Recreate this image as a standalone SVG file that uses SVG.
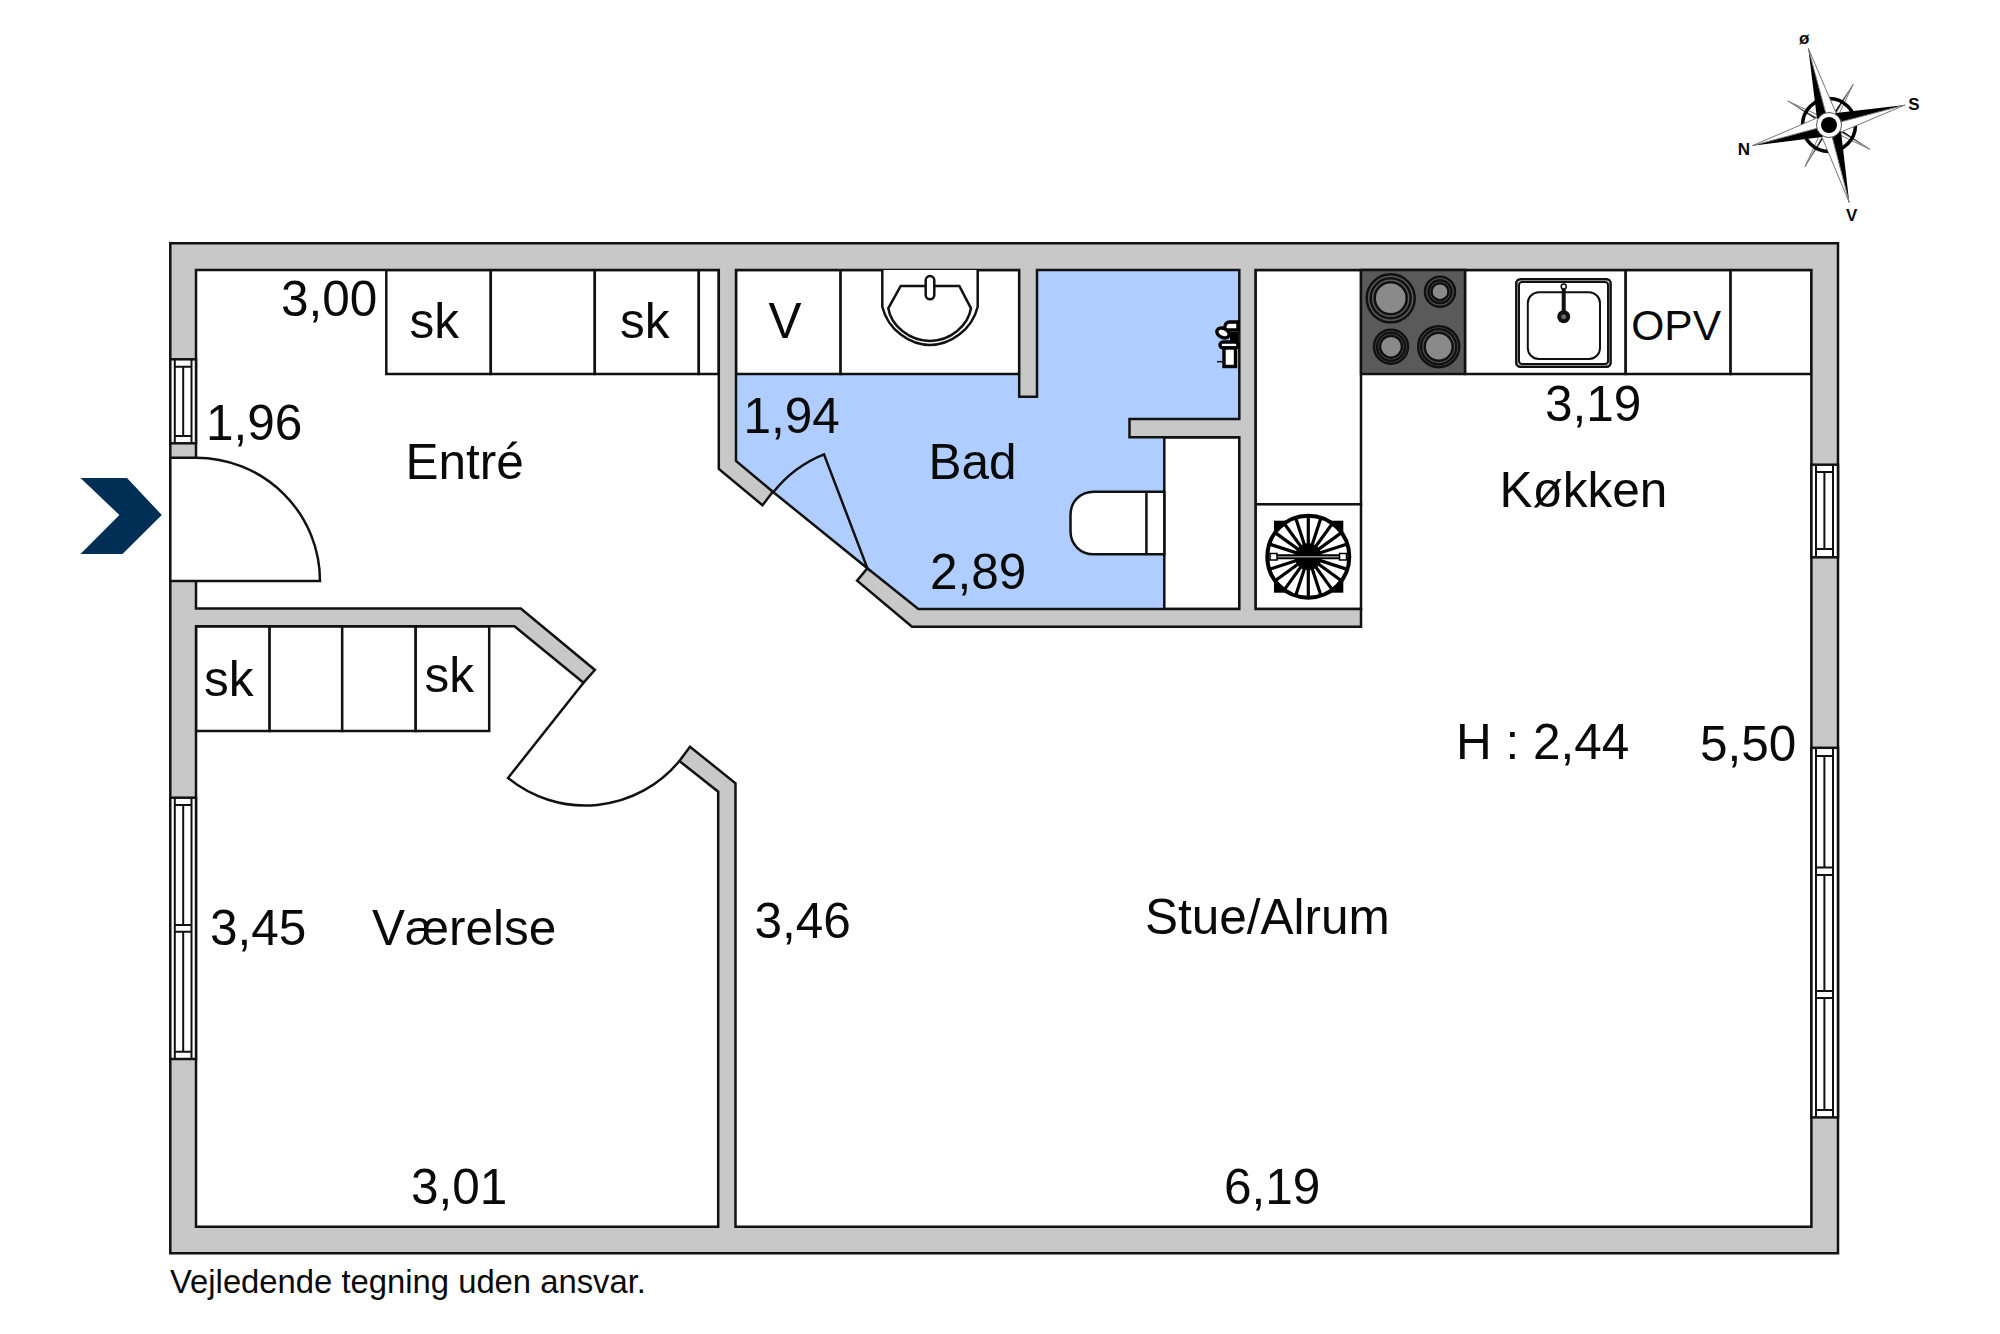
<svg xmlns="http://www.w3.org/2000/svg" width="2000" height="1334" viewBox="0 0 2000 1334">
<style>
text{font-family:"Liberation Sans",Arial,sans-serif;fill:#0a0a0a}
.t{font-size:49.5px}
.o{font-size:42.5px}
.f{font-size:32.8px}
.c{font-size:17px;font-weight:bold}
.l{fill:none;stroke:#111;stroke-width:2.5}
.w{fill:#fff;stroke:#111;stroke-width:2.5}
.th{fill:none;stroke:#111;stroke-width:2}
.b{fill:#8a8a8a;stroke:#111;stroke-width:2.5}
.d{fill:#5a5a5a;stroke:#111;stroke-width:2.5}
.k{fill:#000}
.m{fill:#fff;stroke:#777;stroke-width:1}
.s{stroke:#000;stroke-width:3.2}
.x{fill:#fff;stroke:#000;stroke-width:3.4}
</style>
<rect width="2000" height="1334" fill="#fff"/>
<g id="bad-floor"><polygon points="736,270 1239.3,270 1239.3,609 918.3,609 867.4,568.3 772.8,491.7 736,461" fill="#afceff"/></g>
<g id="cabinets">
<rect class="w" x="386.3" y="270" width="104.5" height="104"/><rect class="w" x="490.8" y="270" width="104" height="104"/><rect class="w" x="594.8" y="270" width="104" height="104"/><rect class="w" x="698.8" y="270" width="20" height="104"/>
<rect class="w" x="736" y="270" width="104.6" height="104"/><rect class="w" x="840.6" y="270" width="178.6" height="104"/>
<rect class="w" x="1465" y="270" width="160.7" height="104"/><rect class="w" x="1625.7" y="270" width="104.9" height="104"/><rect class="w" x="1730.6" y="270" width="80.8" height="104"/>
<rect class="w" x="1255.5" y="270" width="105.5" height="234.3"/><rect class="w" x="1255.5" y="504.3" width="105.5" height="104.7"/>
<rect class="w" x="1164.3" y="437.3" width="75" height="171.7"/>
<rect class="w" x="196" y="626.3" width="73.6" height="104.7"/><rect class="w" x="269.6" y="626.3" width="72.6" height="104.7"/><rect class="w" x="342.2" y="626.3" width="73.5" height="104.7"/><rect class="w" x="415.7" y="626.3" width="73.5" height="104.7"/>
</g>
<g id="walls"><path fill="#c8c8c8" stroke="#111" stroke-width="2.5" fill-rule="evenodd" d="M170.3 243.3H1838V1253.3H170.3Z M196 270H718.8V469L762.5 505.3L772.8 491.7L736 461V270H1019.2V396.7H1037V270H1239.3V419H1129.5V437.3H1239.3V609H918.3L867.4 568.3L857.1 580.7L912 626.7H1361V609H1255.5V270H1811.4V1226.7H735.5V783.3L690 746.7L679.4 761L718.2 791.7V1226.7H196V626.3H514.5L583.5 682.7L594.9 670L520.8 608.5H196Z"/></g>
<g id="windows">
<g id="window-1"><rect class="w" x="170.3" y="359.3" width="25.7" height="84"/><path class="th" d="M174.8 359.3V443.3M191.5 359.3V443.3M174.8 366.7H191.5M174.8 436H191.5M183.2 366.7V436"/></g>
<g id="window-2"><rect class="w" x="170.3" y="797.7" width="25.7" height="261.3"/><path class="th" d="M174.8 797.7V1059M191.5 797.7V1059M174.8 805H191.5M174.8 925H191.5M174.8 931.7H191.5M174.8 1051.7H191.5M183.2 805V925M183.2 931.7V1051.7"/></g>
<g id="window-3"><rect class="w" x="1811.4" y="464.7" width="26.6" height="92.6"/><path class="th" d="M1816 464.7V557.3M1833 464.7V557.3M1816 472H1833M1816 549H1833M1824.4 472V549"/></g>
<g id="window-4"><rect class="w" x="1811.4" y="747.8" width="26.6" height="369.6"/><path class="th" d="M1816 747.8V1117.4M1833 747.8V1117.4M1816 756H1833M1816 867.4H1833M1816 875H1833M1816 991H1833M1816 998H1833M1816 1110H1833M1824.4 756V867.4M1824.4 875V991M1824.4 998V1110"/></g>
</g>
<g id="doors">
<g id="door-entry"><path class="w" d="M170.3 457.7H196A124 123.3 0 0 1 320 581H170.3Z"/></g>
<g id="door-bad"><path class="l" d="M772.8 491.7L867.4 568.3L824 454.3A122 122 0 0 0 773.7 491.7"/></g>
<g id="door-vaerelse"><path class="l" d="M583.5 682.7L508 778A122 122 0 0 0 679.4 761"/></g>
</g>
<g id="arrow"><polygon points="80.5,478 127,478 161.8,515 122.5,554 80.5,554 119.4,515" fill="#002f56"/></g>
<g id="sink-bath"><path class="w" d="M882.3 270V306.7C888 330 910 345 930 345C950 345 972 330 977.7 306.7V270"/><path class="w" d="M900.7 286H959.3L971 308.3C968 326 950 341 930 341C910 341 891 326 888.3 308.3Z"/><rect class="w" x="925.7" y="276" width="8.6" height="23.3" rx="4.3"/></g>
<g id="toilet"><path class="w" d="M1164.3 491.7H1094C1080 491.7 1070.5 502 1070.5 515V531C1070.5 544 1080 554.3 1094 554.3H1164.3Z"/><path class="l" d="M1146.4 491.7V554.3"/></g>
<g id="tap-bath">
<path class="x" d="M1238 322H1230C1226 322 1224 325 1225 330H1238Z"/>
<ellipse class="x" cx="1223" cy="333" rx="6.5" ry="4.5" transform="rotate(25 1223 333)"/>
<path d="M1230 332H1238V342H1230Z" fill="#000"/>
<rect class="x" x="1220" y="342" width="18" height="6" rx="3"/>
<rect class="x" x="1224" y="348" width="11.5" height="18.5"/>
<path d="M1217 361.7H1225" stroke="#111" stroke-width="1.5"/>
</g>
<g id="hob"><rect class="d" x="1361" y="270" width="104" height="104"/>
<circle class="d" cx="1390.7" cy="298.3" r="24"/><circle class="d" cx="1390.7" cy="298.3" r="20"/><circle class="b" cx="1390.7" cy="298.3" r="16"/>
<circle class="d" cx="1440" cy="291.7" r="15"/><circle class="d" cx="1440" cy="291.7" r="11.5"/><circle class="b" cx="1440" cy="291.7" r="8.5"/>
<circle class="d" cx="1391" cy="346.7" r="17"/><circle class="d" cx="1391" cy="346.7" r="14"/><circle class="b" cx="1391" cy="346.7" r="11"/>
<circle class="d" cx="1438.7" cy="346.7" r="20.5"/><circle class="d" cx="1438.7" cy="346.7" r="17.5"/><circle class="b" cx="1438.7" cy="346.7" r="14"/>
</g>
<g id="sink-kitchen"><rect class="w" x="1516.3" y="279.3" width="94.3" height="87.4" rx="4"/><rect class="th" x="1519" y="282" width="89" height="82" rx="3"/><rect class="th" x="1527.8" y="292.3" width="72.2" height="66.7" rx="11"/>
<path d="M1563.7 316.7V288" stroke="#111" stroke-width="4" fill="none"/><circle cx="1563.7" cy="286.5" r="2.5" fill="#fff" stroke="#111" stroke-width="1.5"/><circle cx="1563.7" cy="316.7" r="6.5" fill="#111"/><circle cx="1563.7" cy="316.7" r="2.5" fill="#666"/></g>
<g id="fan">
<rect class="k" x="1274" y="520.7" width="69.3" height="72"/>
<circle cx="1308.3" cy="556.7" r="41" fill="#fff" stroke="#000" stroke-width="4"/>
<g class="s">
<line x1="1308.3" y1="515.7" x2="1308.3" y2="597.7"/>
<line x1="1308.3" y1="515.7" x2="1308.3" y2="597.7" transform="rotate(18 1308.3 556.7)"/>
<line x1="1308.3" y1="515.7" x2="1308.3" y2="597.7" transform="rotate(36 1308.3 556.7)"/>
<line x1="1308.3" y1="515.7" x2="1308.3" y2="597.7" transform="rotate(54 1308.3 556.7)"/>
<line x1="1308.3" y1="515.7" x2="1308.3" y2="597.7" transform="rotate(72 1308.3 556.7)"/>
<line x1="1308.3" y1="515.7" x2="1308.3" y2="597.7" transform="rotate(108 1308.3 556.7)"/>
<line x1="1308.3" y1="515.7" x2="1308.3" y2="597.7" transform="rotate(126 1308.3 556.7)"/>
<line x1="1308.3" y1="515.7" x2="1308.3" y2="597.7" transform="rotate(144 1308.3 556.7)"/>
<line x1="1308.3" y1="515.7" x2="1308.3" y2="597.7" transform="rotate(162 1308.3 556.7)"/>
</g>
<circle class="k" cx="1308.3" cy="556.7" r="13.5"/>
<path d="M1277 556.7H1340" stroke="#000" stroke-width="5"/><path d="M1277 556.7H1340" stroke="#888" stroke-width="1.6"/>
<rect x="1270" y="553.5" width="7" height="6.5" fill="#fff" stroke="#000" stroke-width="1.5"/><rect x="1339.5" y="553.5" width="7" height="6.5" fill="#fff" stroke="#000" stroke-width="1.5"/>
</g>
<g id="compass">
<polygon class="k" points="1853.3,84 1835,111 1829,125"/><polygon class="m" points="1853.3,84 1839,114 1829,125"/>
<polygon class="k" points="1870,149.3 1842,130.5 1829,125"/><polygon class="m" points="1870,149.3 1840,135 1829,125"/>
<polygon class="k" points="1805,166.7 1823,138.8 1829,125"/><polygon class="m" points="1805,166.7 1819,136 1829,125"/>
<polygon class="k" points="1787.7,101 1816,119.5 1829,125"/><polygon class="m" points="1787.7,101 1818,115 1829,125"/>
<circle cx="1829" cy="125" r="26.5" fill="none" stroke="#000" stroke-width="3.5"/>
<polygon class="k" points="1808.3,48.3 1816.9,118 1829,125"/><polygon class="m" points="1808.3,48.3 1836,112.9 1829,125"/>
<polygon class="k" points="1905,105 1836,112.9 1829,125"/><polygon class="m" points="1905,105 1841.1,132 1829,125"/>
<polygon class="k" points="1849.3,202.7 1841.1,132 1829,125"/><polygon class="m" points="1849.3,202.7 1822,137.1 1829,125"/>
<polygon class="k" points="1752.3,145.7 1822,137.1 1829,125"/><polygon class="m" points="1752.3,145.7 1816.9,118 1829,125"/>
<circle cx="1829" cy="125" r="12.5" fill="#fff" stroke="#555" stroke-width="1"/><circle class="k" cx="1829" cy="125" r="8"/>
<text class="c" x="1799" y="44">ø</text><text class="c" x="1914" y="110" text-anchor="middle">S</text><text class="c" x="1750" y="155" text-anchor="end">N</text><text class="c" x="1846" y="221">V</text>
</g>
<g id="labels">
<text class="t" x="281" y="316">3,00</text><text class="t" x="409.4" y="338">sk</text><text class="t" x="620" y="338">sk</text>
<text class="t" x="206" y="440">1,96</text><text class="t" x="405.5" y="478.5">Entré</text>
<text class="t" x="768.5" y="338">V</text><text class="t" x="743.5" y="432.5">1,94</text><text class="t" x="928.5" y="478.5">Bad</text><text class="t" x="930" y="588.5">2,89</text>
<text class="o" x="1631.3" y="340">OPV</text><text class="t" x="1545" y="421">3,19</text><text class="t" x="1499.5" y="507">Køkken</text>
<text class="t" x="204" y="695.5">sk</text><text class="t" x="424.5" y="691.7">sk</text>
<text class="t" x="210" y="945">3,45</text><text class="t" x="372" y="944.5">Værelse</text><text class="t" x="754.5" y="937.5">3,46</text>
<text class="t" x="1456" y="758.5">H : 2,44</text><text class="t" x="1700" y="760.5">5,50</text><text class="t" x="1145" y="933.5">Stue/Alrum</text>
<text class="t" x="411" y="1204">3,01</text><text class="t" x="1224" y="1204">6,19</text>
<text class="f" x="170" y="1293" id="footer">Vejledende tegning uden ansvar.</text>
</g>
</svg>
